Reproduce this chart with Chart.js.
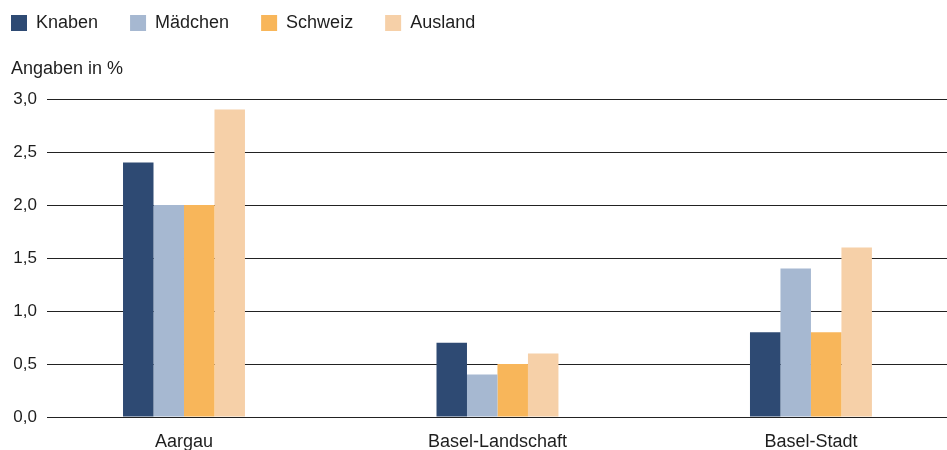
<!DOCTYPE html>
<html>
<head>
<meta charset="utf-8">
<script src="https://cdn.jsdelivr.net/npm/chart.js@4.4.1/dist/chart.umd.min.js"></script>
<style>
  html, body { margin: 0; padding: 0; background: #fff; overflow: hidden; width: 947px; height: 450px; }
  #wrap { position: absolute; left: -21px; top: -18px; width: 968px; height: 480px; }
</style>
</head>
<body>
<div id="wrap"><canvas id="chart"></canvas></div>
<script>
'use strict';

// Kategorien und Werte (Angaben in %)
const regionen = ['Aargau', 'Basel-Landschaft', 'Basel-Stadt'];
const knaben = [2.4, 0.7, 0.8];
const maedchen = [2.0, 0.4, 1.4];
const schweiz = [2.0, 0.5, 0.8];
const ausland = [2.9, 0.6, 1.6];
const yTicks = [0, 0.5, 1.0, 1.5, 2.0, 2.5, 3.0];
const yAchsenTitel = 'Angaben in %';

const schrift = 'Liberation Sans, Arial, sans-serif';
const textFarbe = '#1e1e1e';

// Legende höher machen, damit der Plotbereich an der richtigen Stelle beginnt
const legendHeight = {
  id: 'legendHeight',
  beforeInit(chart) {
    const fit = chart.legend.fit;
    chart.legend.fit = function () {
      fit.call(this);
      this.height = 117;
    };
  }
};

// Achsentitel über der y-Achse
const achsenTitel = {
  id: 'achsenTitel',
  afterDraw(chart) {
    const ctx = chart.ctx;
    const area = chart.chartArea;
    ctx.save();
    ctx.font = '18px ' + schrift;
    ctx.fillStyle = textFarbe;
    ctx.textBaseline = 'middle';
    ctx.textAlign = 'left';
    ctx.fillText(yAchsenTitel, area.left - 36, area.top - 30);
    ctx.restore();
  }
};

new Chart(document.getElementById('chart'), {
  type: 'bar',
  data: {
    labels: regionen,
    datasets: [
      { label: 'Knaben', data: knaben, backgroundColor: '#2e4a73' },
      { label: 'Mädchen', data: maedchen, backgroundColor: '#a6b8d1' },
      { label: 'Schweiz', data: schweiz, backgroundColor: '#f8b65a' },
      { label: 'Ausland', data: ausland, backgroundColor: '#f6d0a8' }
    ]
  },
  options: {
    responsive: true,
    maintainAspectRatio: false,
    animation: false,
    layout: { padding: 0 },
    datasets: {
      bar: { categoryPercentage: 0.389, barPercentage: 1.0, borderWidth: 0 }
    },
    plugins: {
      tooltip: { enabled: false },
      title: { display: false },
      legend: {
        position: 'top',
        align: 'start',
        labels: {
          boxWidth: 16,
          boxHeight: 16,
          padding: 32,
          color: textFarbe,
          font: { family: schrift, size: 18 }
        }
      }
    },
    scales: {
      x: {
        grid: { display: false, drawTicks: false },
        border: { display: false },
        ticks: {
          color: textFarbe,
          padding: 14,
          font: { family: schrift, size: 18 }
        },
        afterBuildTicks(scale) {
          // Gruppenpositionen wie im Original (nicht gleichmässig zum Rand)
          scale._startValue = -0.437;
          scale._valueRange = 2.871;
        },
        afterFit(scale) { scale.height = 45; }
      },
      y: {
        min: 0,
        max: 3,
        grid: { color: '#222', lineWidth: 1, drawTicks: false },
        border: { display: false },
        afterBuildTicks(scale) {
          scale.ticks = yTicks.map(v => ({ value: v }));
        },
        afterFit(scale) { scale.width = 68; },
        ticks: {
          color: textFarbe,
          padding: 10,
          font: { family: schrift, size: 17 },
          callback: (v) => Number(v).toFixed(1).replace('.', ',')
        }
      }
    }
  },
  plugins: [legendHeight, achsenTitel]
});
</script>
</body>
</html>
